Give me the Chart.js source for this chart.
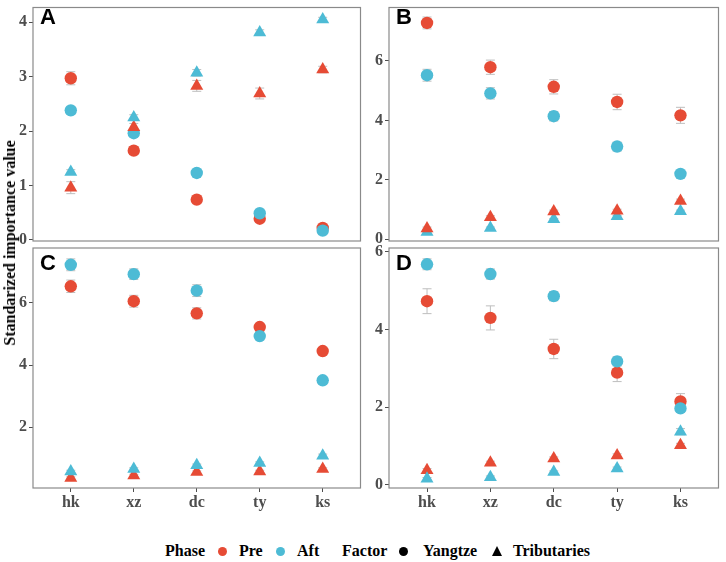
<!DOCTYPE html>
<html>
<head>
<meta charset="utf-8">
<script src="https://cdn.jsdelivr.net/npm/chart.js@4.4.1/dist/chart.umd.min.js"></script>
<style>
  body { margin: 0; background: #fff; width: 726px; height: 562px; position: relative; overflow: hidden; font-family: "Liberation Serif", "Times New Roman", serif; }
  canvas { position: absolute; }
  .tag { position: absolute; font: bold 22px "Liberation Sans", Arial, sans-serif; color: #000; line-height: 22px; }
  #ytitle { position: absolute; left: 10px; top: 243px; transform: translate(-50%, -50%) rotate(-90deg); white-space: nowrap; font-weight: bold; font-size: 16px; color: #000; }
  .lg { position: absolute; top: 541px; font-weight: bold; font-size: 16px; line-height: 20px; color: #000; white-space: nowrap; }
  .dot { position: absolute; top: 547px; width: 9px; height: 9px; border-radius: 50%; }
  .tri { position: absolute; top: 546px; width: 0; height: 0; border-left: 5.5px solid transparent; border-right: 5.5px solid transparent; border-bottom: 10px solid #000; }
</style>
</head>
<body>
<canvas id="pA" width="368" height="250" style="left:0;top:0"></canvas>
<canvas id="pB" width="360" height="250" style="left:366px;top:0"></canvas>
<canvas id="pC" width="368" height="279" style="left:0;top:236px"></canvas>
<canvas id="pD" width="360" height="279" style="left:366px;top:236px"></canvas>

<div class="tag" style="left:40px;top:6px">A</div>
<div class="tag" style="left:396px;top:6px">B</div>
<div class="tag" style="left:40px;top:252px">C</div>
<div class="tag" style="left:396px;top:252px">D</div>

<div id="ytitle">Standarized importance value</div>

<div class="lg" style="left:165px">Phase</div>
<div class="dot" style="left:218px;background:#E64B35"></div>
<div class="lg" style="left:239px">Pre</div>
<div class="dot" style="left:276px;background:#4DBBD5"></div>
<div class="lg" style="left:297px">Aft</div>
<div class="lg" style="left:342px">Factor</div>
<div class="dot" style="left:399px;background:#000"></div>
<div class="lg" style="left:423px">Yangtze</div>
<div class="tri" style="left:492px"></div>
<div class="lg" style="left:513px">Tributaries</div>

<script>
const categories = ['hk', 'xz', 'dc', 'ty', 'ks'];

// panel A
const aPreYangtze = [2.97, 1.64, 0.74, 0.39, 0.22];
const aPreYangtzeErr = [0.12, 0.07, 0.04, 0.04, 0.03];
const aAftYangtze = [2.38, 1.96, 1.23, 0.49, 0.17];
const aAftYangtzeErr = [0.04, 0.05, 0.04, 0.03, 0.03];
const aPreTrib = [0.96, 2.07, 2.83, 2.69, 3.13];
const aPreTribErr = [0.11, 0.07, 0.10, 0.10, 0.06];
const aAftTrib = [1.25, 2.25, 3.07, 3.81, 4.05];
const aAftTribErr = [0.04, 0.05, 0.06, 0.05, 0.04];
const aTicks = [0, 1, 2, 3, 4];

// panel B
const bPreYangtze = [7.28, 5.79, 5.13, 4.62, 4.17];
const bPreYangtzeErr = [0.20, 0.24, 0.24, 0.26, 0.27];
const bAftYangtze = [5.52, 4.91, 4.14, 3.12, 2.20];
const bAftYangtzeErr = [0.20, 0.19, 0.16, 0.15, 0.08];
const bPreTrib = [0.36, 0.74, 0.93, 0.96, 1.29];
const bPreTribErr = [0.05, 0.05, 0.05, 0.05, 0.06];
const bAftTrib = [0.24, 0.38, 0.67, 0.77, 0.94];
const bAftTribErr = [0.03, 0.03, 0.03, 0.03, 0.04];
const bTicks = [0, 2, 4, 6];

// panel C
const cPreYangtze = [6.53, 6.05, 5.66, 5.22, 4.45];
const cPreYangtzeErr = [0.20, 0.19, 0.18, 0.10, 0.08];
const cAftYangtze = [7.22, 6.92, 6.39, 4.93, 3.51];
const cAftYangtzeErr = [0.19, 0.17, 0.19, 0.10, 0.07];
const cPreTrib = [0.37, 0.45, 0.56, 0.58, 0.66];
const cPreTribErr = [0.04, 0.04, 0.04, 0.04, 0.04];
const cAftTrib = [0.58, 0.66, 0.78, 0.85, 1.09];
const cAftTribErr = [0.04, 0.04, 0.04, 0.04, 0.05];
const cTicks = [2, 4, 6];

// panel D
const dPreYangtze = [4.73, 4.30, 3.50, 2.89, 2.15];
const dPreYangtzeErr = [0.32, 0.31, 0.25, 0.23, 0.20];
const dAftYangtze = [5.68, 5.43, 4.86, 3.18, 1.97];
const dAftYangtzeErr = [0.14, 0.13, 0.12, 0.12, 0.08];
const dPreTrib = [0.38, 0.57, 0.68, 0.76, 1.02];
const dPreTribErr = [0.04, 0.04, 0.04, 0.04, 0.05];
const dAftTrib = [0.16, 0.20, 0.33, 0.42, 1.37];
const dAftTribErr = [0.03, 0.03, 0.03, 0.04, 0.08];
const dTicks = [0, 2, 4, 6];

const PRE = '#E64B35';
const AFT = '#4DBBD5';
const tickFont = { family: 'Liberation Serif', size: 16, weight: 'bold' };

// error bars under the points, gray frame around the panel
const panelExtras = {
    id: 'panelExtras',
    beforeDatasetsDraw(chart) {
        const { ctx, scales: { x, y } } = chart;
        ctx.save();
        ctx.strokeStyle = '#BEBEBE';
        ctx.lineWidth = 1;
        chart.data.datasets.forEach(ds => {
            ds.data.forEach((p, i) => {
                const e = ds.errors[i];
                const px = x.getPixelForValue(p.x);
                const top = y.getPixelForValue(p.y + e);
                const bot = y.getPixelForValue(p.y - e);
                ctx.beginPath();
                ctx.moveTo(px, top); ctx.lineTo(px, bot);
                ctx.moveTo(px - 4.5, top); ctx.lineTo(px + 4.5, top);
                ctx.moveTo(px - 4.5, bot); ctx.lineTo(px + 4.5, bot);
                ctx.stroke();
            });
        });
        ctx.restore();
    },
    afterDraw(chart) {
        const { ctx, chartArea: a } = chart;
        ctx.save();
        ctx.strokeStyle = '#8a8a8a';
        ctx.lineWidth = 1.2;
        ctx.strokeRect(a.left, a.top, a.right - a.left, a.bottom - a.top);
        ctx.restore();
    }
};

function series(values, errors, color, shape) {
    return {
        data: values.map((v, i) => ({ x: i, y: v })),
        errors: errors,
        backgroundColor: color,
        borderColor: color,
        borderWidth: 0,
        pointStyle: shape,
        pointRadius: shape === 'triangle' ? 7.5 : 6.2,
        pointHoverRadius: shape === 'triangle' ? 7.5 : 6.2
    };
}

function noPad(s) {
    s.paddingTop = 0; s.paddingBottom = 0; s.paddingLeft = 0; s.paddingRight = 0;
}

function makePanel(id, datasets, yMin, yMax, yTicks, yWidth, padding, showX) {
    new Chart(document.getElementById(id), {
        type: 'scatter',
        data: { datasets: datasets },
        options: {
            responsive: false,
            animation: false,
            layout: { padding: padding },
            plugins: { legend: { display: false }, tooltip: { enabled: false } },
            scales: {
                x: {
                    type: 'linear',
                    min: -0.6,
                    max: 4.6,
                    display: showX,
                    afterBuildTicks: s => { s.ticks = categories.map((c, i) => ({ value: i })); },
                    afterFit: s => {
                        if (showX) s.height = 27; else s.height = 0;
                        noPad(s);
                    },
                    ticks: {
                        callback: v => categories[v],
                        color: '#4D4D4D',
                        font: tickFont,
                        padding: 1,
                        maxRotation: 0,
                        autoSkip: false
                    },
                    grid: { drawOnChartArea: false, tickLength: 4, color: '#4D4D4D' },
                    border: { display: false }
                },
                y: {
                    min: yMin,
                    max: yMax,
                    afterBuildTicks: s => { s.ticks = yTicks.map(v => ({ value: v })); },
                    afterFit: s => { s.width = yWidth; noPad(s); },
                    ticks: { color: '#4D4D4D', font: tickFont, padding: 2 },
                    grid: { drawOnChartArea: false, tickLength: 4, color: '#4D4D4D' },
                    border: { display: false }
                }
            }
        },
        plugins: [panelExtras]
    });
}

makePanel('pA', [
    series(aAftTrib, aAftTribErr, AFT, 'triangle'),
    series(aPreTrib, aPreTribErr, PRE, 'triangle'),
    series(aAftYangtze, aAftYangtzeErr, AFT, 'circle'),
    series(aPreYangtze, aPreYangtzeErr, PRE, 'circle')
], -0.02, 4.27, aTicks, 33, { top: 3, right: 2, bottom: 9, left: 0 }, false);

makePanel('pB', [
    series(bPreTrib, bPreTribErr, PRE, 'triangle'),
    series(bAftTrib, bAftTribErr, AFT, 'triangle'),
    series(bAftYangtze, bAftYangtzeErr, AFT, 'circle'),
    series(bPreYangtze, bPreYangtzeErr, PRE, 'circle')
], -0.06, 7.8, bTicks, 23, { top: 3, right: 3, bottom: 9, left: 0 }, false);

makePanel('pC', [
    series(cAftTrib, cAftTribErr, AFT, 'triangle'),
    series(cPreTrib, cPreTribErr, PRE, 'triangle'),
    series(cAftYangtze, cAftYangtzeErr, AFT, 'circle'),
    series(cPreYangtze, cPreYangtzeErr, PRE, 'circle')
], 0.05, 7.76, cTicks, 33, { top: 12, right: 2, bottom: 0, left: 0 }, true);

makePanel('pD', [
    series(dAftTrib, dAftTribErr, AFT, 'triangle'),
    series(dPreTrib, dPreTribErr, PRE, 'triangle'),
    series(dAftYangtze, dAftYangtzeErr, AFT, 'circle'),
    series(dPreYangtze, dPreYangtzeErr, PRE, 'circle')
], -0.08, 6.1, dTicks, 23, { top: 12, right: 3, bottom: 0, left: 0 }, true);
</script>
</body>
</html>
